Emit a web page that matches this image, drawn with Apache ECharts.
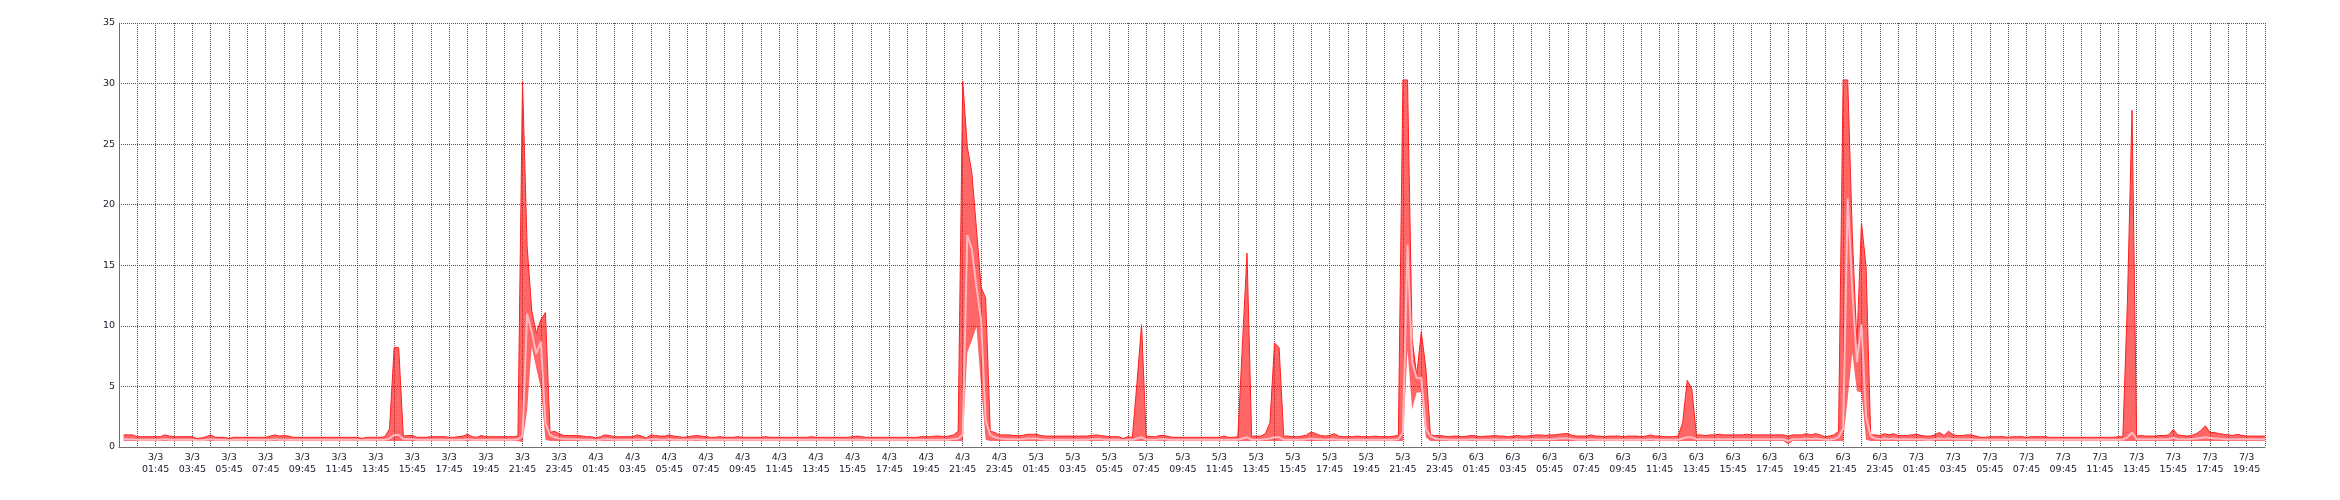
<!DOCTYPE html>
<html>
<head>
<meta charset="utf-8">
<script src="https://cdn.jsdelivr.net/npm/echarts@6/dist/echarts.min.js"></script>
<style>
html,body{margin:0;padding:0;background:#fff;}
#chart{width:2340px;height:500px;}
</style>
</head>
<body>
<div id="chart"></div>
<script>
// Samples every 15 minutes, from 3/3 00:00 to 7/3 20:45.
// The axis starts at 2/3 23:45 (one empty slot before the first sample).
const axisStart = { day: 2, month: 3, hour: 23, minute: 45 };
const slotMinutes = 15;
const yTicks = [0, 5, 10, 15, 20, 25, 30, 35];

// ---- maximum ----
const maxD3 = [
1.0,1.0,1.0,0.85,0.85,0.85,0.85,0.85,0.85,1.0,
0.9,0.85,0.85,0.85,0.85,0.85,0.7,0.75,0.85,1.0,
0.8,0.8,0.8,0.7,0.8,0.8,0.8,0.8,0.8,0.8,
0.8,0.8,0.9,1.0,0.9,0.95,0.9,0.8,0.8,0.8,
0.8,0.8,0.8,0.8,0.8,0.8,0.8,0.8,0.8,0.8,
0.8,0.8,0.7,0.8,0.8,0.8,0.8,0.85,1.5,8.2,
8.2,0.9,0.95,0.95,0.8,0.8,0.8,0.85,0.85,0.85,
0.85,0.8,0.8,0.85,0.9,1.05,0.85,0.8,0.95,0.85,
0.85,0.85,0.85,0.85,0.85,0.85,0.9,30.2,16.6,11.3,
9.4,10.5,11.1,1.2,1.3,1.1];
const maxD4 = [
0.95,0.95,0.95,0.95,0.9,0.85,0.85,0.75,0.85,1.0,
0.95,0.85,0.85,0.85,0.85,0.85,1.0,0.9,0.75,1.0,
0.95,0.9,0.9,1.0,0.9,0.85,0.8,0.85,0.9,0.95,
0.9,0.85,0.8,0.8,0.85,0.8,0.8,0.8,0.85,0.8,
0.8,0.8,0.8,0.8,0.85,0.8,0.8,0.8,0.8,0.8,
0.8,0.8,0.8,0.8,0.85,0.8,0.8,0.8,0.8,0.8,
0.8,0.8,0.8,0.85,0.9,0.85,0.8,0.8,0.8,0.8,
0.8,0.8,0.8,0.8,0.8,0.8,0.8,0.8,0.85,0.85,
0.85,0.9,0.9,0.85,0.9,1.0,1.3,30.2,24.8,22.6,
18.0,13.2,12.3,1.3,1.2,1.0];
const maxD5 = [
1.0,1.0,0.95,0.95,0.95,1.05,1.05,1.05,0.95,0.9,
0.9,0.9,0.9,0.9,0.9,0.9,0.9,0.9,0.9,0.95,
1.0,0.95,0.9,0.85,0.85,0.85,0.7,0.85,0.8,5.3,
10.1,0.9,0.85,0.85,0.95,0.95,0.85,0.8,0.8,0.8,
0.8,0.8,0.8,0.8,0.8,0.8,0.8,0.8,0.9,0.8,
0.8,0.85,8.5,16.0,0.9,0.9,0.9,1.1,2.0,8.6,
8.2,0.9,0.9,0.85,0.85,0.9,1.0,1.25,1.1,0.95,
0.9,0.95,1.1,0.9,0.85,0.85,0.85,0.9,0.85,0.85,
0.85,0.9,0.85,0.85,0.85,0.9,0.95,30.3,30.3,9.0,
5.9,9.5,6.5,1.0,0.95,0.95];
const maxD6 = [
0.9,0.85,0.9,0.9,0.85,0.9,0.95,0.9,0.85,0.9,
0.9,0.95,0.9,0.9,0.85,0.9,0.95,0.9,0.9,0.95,
1.0,1.0,0.95,1.0,1.0,1.05,1.1,1.1,0.95,0.9,
0.9,0.9,1.0,0.9,0.9,0.85,0.9,0.9,0.9,0.85,
0.9,0.9,0.9,0.85,0.9,1.0,0.9,0.9,0.85,0.85,
0.85,0.9,2.0,5.5,4.8,1.0,1.0,0.95,1.0,1.0,
1.05,1.0,1.0,1.0,1.0,1.0,1.05,1.0,1.0,1.0,
1.0,1.0,1.0,1.0,1.0,0.9,1.0,1.0,1.0,1.1,
1.0,1.1,1.0,0.85,0.9,1.0,1.3,30.3,30.3,17.5,
8.5,18.5,14.9,1.0,1.0,0.95];
const maxD7 = [
1.1,1.0,1.1,0.95,0.95,0.95,1.0,1.05,0.95,0.9,
0.9,1.0,1.2,0.95,1.3,1.0,0.95,0.95,1.0,1.0,
0.9,0.8,0.8,0.85,0.85,0.85,0.85,0.8,0.85,0.85,
0.85,0.8,0.85,0.85,0.85,0.85,0.8,0.8,0.8,0.8,
0.8,0.8,0.8,0.8,0.8,0.8,0.8,0.8,0.8,0.8,
0.8,0.85,0.85,12.0,27.8,0.9,0.95,0.9,0.9,0.9,
0.95,0.95,1.0,1.45,1.0,0.95,0.9,0.95,1.1,1.35,
1.75,1.2,1.2,1.1,1.05,1.0,0.95,1.05,0.95,0.9,
0.9,0.9,0.9,0.9];

// ---- average ----
const avgD3 = [
0.65,0.65,0.65,0.6,0.6,0.6,0.6,0.6,0.6,0.65,
0.6,0.6,0.6,0.6,0.6,0.6,0.55,0.55,0.6,0.65,
0.6,0.6,0.6,0.55,0.6,0.6,0.6,0.6,0.6,0.6,
0.6,0.6,0.6,0.65,0.6,0.6,0.6,0.6,0.6,0.6,
0.6,0.6,0.6,0.6,0.6,0.6,0.6,0.6,0.6,0.6,
0.6,0.6,0.55,0.6,0.6,0.6,0.6,0.6,0.7,1.0,
1.0,0.65,0.65,0.65,0.6,0.6,0.6,0.6,0.6,0.6,
0.6,0.6,0.6,0.6,0.6,0.65,0.6,0.6,0.6,0.6,
0.6,0.6,0.6,0.6,0.6,0.6,0.65,0.9,11.0,9.5,
7.7,8.7,2.0,1.0,0.8,0.7];
const avgD4 = [
0.65,0.65,0.65,0.65,0.6,0.6,0.6,0.55,0.6,0.65,
0.65,0.6,0.6,0.6,0.6,0.6,0.65,0.6,0.55,0.65,
0.65,0.6,0.6,0.65,0.6,0.6,0.6,0.6,0.6,0.65,
0.6,0.6,0.6,0.6,0.6,0.6,0.6,0.6,0.6,0.6,
0.6,0.6,0.6,0.6,0.6,0.6,0.6,0.6,0.6,0.6,
0.6,0.6,0.6,0.6,0.6,0.6,0.6,0.6,0.6,0.6,
0.6,0.6,0.6,0.6,0.6,0.6,0.6,0.6,0.6,0.6,
0.6,0.6,0.6,0.6,0.6,0.6,0.6,0.6,0.6,0.6,
0.6,0.6,0.6,0.6,0.6,0.65,0.7,1.0,17.5,16.3,
13.2,10.5,2.2,1.0,0.8,0.7];
const avgD5 = [
0.65,0.65,0.65,0.65,0.65,0.7,0.7,0.7,0.65,0.6,
0.6,0.6,0.6,0.6,0.6,0.6,0.6,0.6,0.6,0.65,
0.65,0.65,0.6,0.6,0.6,0.6,0.55,0.6,0.6,0.7,
0.8,0.6,0.6,0.6,0.65,0.65,0.6,0.6,0.6,0.6,
0.6,0.6,0.6,0.6,0.6,0.6,0.6,0.6,0.6,0.6,
0.6,0.6,0.7,0.8,0.6,0.6,0.6,0.65,0.7,0.8,
0.8,0.6,0.6,0.6,0.6,0.6,0.65,0.7,0.65,0.65,
0.6,0.65,0.65,0.6,0.6,0.6,0.6,0.6,0.6,0.6,
0.6,0.6,0.6,0.6,0.6,0.6,0.65,1.2,16.7,7.0,
5.7,5.7,1.5,0.9,0.7,0.65];
const avgD6 = [
0.65,0.6,0.6,0.6,0.6,0.6,0.65,0.6,0.6,0.6,
0.6,0.65,0.6,0.6,0.6,0.6,0.65,0.6,0.6,0.65,
0.65,0.65,0.65,0.65,0.65,0.7,0.7,0.7,0.65,0.6,
0.6,0.6,0.65,0.6,0.6,0.6,0.6,0.6,0.6,0.6,
0.6,0.6,0.6,0.6,0.6,0.65,0.6,0.6,0.6,0.6,
0.6,0.6,0.7,0.8,0.8,0.65,0.65,0.65,0.65,0.65,
0.65,0.65,0.65,0.65,0.65,0.65,0.65,0.65,0.65,0.65,
0.65,0.65,0.65,0.65,0.65,0.5,0.65,0.65,0.65,0.7,
0.65,0.7,0.65,0.6,0.6,0.65,0.8,1.5,20.5,13.0,
7.0,10.1,2.5,0.9,0.7,0.65];
const avgD7 = [
0.7,0.65,0.7,0.65,0.65,0.65,0.65,0.65,0.65,0.6,
0.6,0.65,0.7,0.65,0.7,0.65,0.65,0.65,0.65,0.65,
0.6,0.6,0.6,0.6,0.6,0.6,0.6,0.6,0.6,0.6,
0.6,0.6,0.6,0.6,0.6,0.6,0.6,0.6,0.6,0.6,
0.6,0.6,0.6,0.6,0.6,0.6,0.6,0.6,0.6,0.6,
0.6,0.6,0.6,0.8,1.2,0.65,0.65,0.65,0.65,0.65,
0.65,0.65,0.65,0.75,0.65,0.65,0.65,0.65,0.7,0.75,
0.8,0.75,0.7,0.7,0.65,0.65,0.65,0.65,0.65,0.65,
0.65,0.65,0.65,0.65];

// ---- minimum ----
const minD3 = [
0.5,0.5,0.5,0.5,0.5,0.5,0.5,0.5,0.5,0.5,
0.5,0.5,0.5,0.5,0.5,0.5,0.5,0.5,0.5,0.5,
0.5,0.5,0.5,0.5,0.5,0.5,0.5,0.5,0.5,0.5,
0.5,0.5,0.5,0.5,0.5,0.5,0.5,0.5,0.5,0.5,
0.5,0.5,0.5,0.5,0.5,0.5,0.5,0.5,0.5,0.5,
0.5,0.5,0.5,0.5,0.5,0.5,0.5,0.5,0.5,0.5,
0.5,0.5,0.5,0.5,0.5,0.5,0.5,0.5,0.5,0.5,
0.5,0.5,0.5,0.5,0.5,0.5,0.5,0.5,0.5,0.5,
0.5,0.5,0.5,0.5,0.5,0.5,0.5,0.4,3.0,8.3,
6.5,4.8,0.6,0.5,0.5,0.5];
const minD4 = [
0.5,0.5,0.5,0.5,0.5,0.5,0.5,0.5,0.5,0.5,
0.5,0.5,0.5,0.5,0.5,0.5,0.5,0.5,0.5,0.5,
0.5,0.5,0.5,0.5,0.5,0.5,0.5,0.5,0.5,0.5,
0.5,0.5,0.5,0.5,0.5,0.5,0.5,0.5,0.5,0.5,
0.5,0.5,0.5,0.5,0.5,0.5,0.5,0.5,0.5,0.5,
0.5,0.5,0.5,0.5,0.5,0.5,0.5,0.5,0.5,0.5,
0.5,0.5,0.5,0.5,0.5,0.5,0.5,0.5,0.5,0.5,
0.5,0.5,0.5,0.5,0.5,0.5,0.5,0.5,0.5,0.5,
0.5,0.5,0.5,0.5,0.5,0.5,0.5,0.5,7.8,8.8,
9.9,5.0,0.6,0.5,0.5,0.5];
const minD5 = [
0.5,0.5,0.5,0.5,0.5,0.5,0.5,0.5,0.5,0.5,
0.5,0.5,0.5,0.5,0.5,0.5,0.5,0.5,0.5,0.5,
0.5,0.5,0.5,0.5,0.5,0.5,0.5,0.5,0.5,0.5,
0.5,0.5,0.5,0.5,0.5,0.5,0.5,0.5,0.5,0.5,
0.5,0.5,0.5,0.5,0.5,0.5,0.5,0.5,0.5,0.5,
0.5,0.5,0.5,0.5,0.5,0.5,0.5,0.5,0.5,0.5,
0.5,0.5,0.5,0.5,0.5,0.5,0.5,0.5,0.5,0.5,
0.5,0.5,0.5,0.5,0.5,0.5,0.5,0.5,0.5,0.5,
0.5,0.5,0.5,0.5,0.5,0.5,0.5,0.5,8.0,3.1,
4.5,4.5,0.8,0.5,0.5,0.5];
const minD6 = [
0.5,0.5,0.5,0.5,0.5,0.5,0.5,0.5,0.5,0.5,
0.5,0.5,0.5,0.5,0.5,0.5,0.5,0.5,0.5,0.5,
0.5,0.5,0.5,0.5,0.5,0.5,0.5,0.5,0.5,0.5,
0.5,0.5,0.5,0.5,0.5,0.5,0.5,0.5,0.5,0.5,
0.5,0.5,0.5,0.5,0.5,0.5,0.5,0.5,0.5,0.5,
0.5,0.5,0.5,0.5,0.5,0.5,0.5,0.5,0.5,0.5,
0.5,0.5,0.5,0.5,0.5,0.5,0.5,0.5,0.5,0.5,
0.5,0.5,0.5,0.5,0.5,0.2,0.5,0.5,0.5,0.5,
0.5,0.5,0.5,0.5,0.5,0.5,0.5,0.5,4.0,7.8,
4.6,4.5,0.6,0.5,0.5,0.5];
const minD7 = [
0.5,0.5,0.5,0.5,0.5,0.5,0.5,0.5,0.5,0.5,
0.5,0.5,0.5,0.5,0.5,0.5,0.5,0.5,0.5,0.5,
0.5,0.5,0.5,0.5,0.5,0.5,0.5,0.5,0.5,0.5,
0.5,0.5,0.5,0.5,0.5,0.5,0.5,0.5,0.5,0.5,
0.5,0.5,0.5,0.5,0.5,0.5,0.5,0.5,0.5,0.5,
0.5,0.5,0.5,0.5,0.5,0.5,0.5,0.5,0.5,0.5,
0.5,0.5,0.5,0.5,0.5,0.5,0.5,0.5,0.5,0.5,
0.5,0.5,0.5,0.5,0.5,0.5,0.5,0.5,0.5,0.5,
0.5,0.5,0.5,0.5];

const maxVals = [].concat(maxD3, maxD4, maxD5, maxD6, maxD7);
const avgVals = [].concat(avgD3, avgD4, avgD5, avgD6, avgD7);
const minVals = [].concat(minD3, minD4, minD5, minD6, minD7);

// Category slots: one empty slot at 2/3 23:45, then one per sample.
const pad = n => (n < 10 ? '0' : '') + n;
const slotCount = maxVals.length + 1;
const categories = [];
for (let s = 0; s < slotCount; s++) {
  const total = axisStart.hour * 60 + axisStart.minute + s * slotMinutes;
  const day = axisStart.day + Math.floor(total / 1440);
  const m = total % 1440;
  categories.push(day + '/' + axisStart.month + '\n' + pad(Math.floor(m / 60)) + ':' + pad(m % 60));
}
const minData = [null].concat(minVals);
const rangeData = [null].concat(maxVals.map((v, i) => +(v - minVals[i]).toFixed(3)));
const avgData = [null].concat(avgVals);

const slotsPerHour = 60 / slotMinutes;
const gridEvery = slotsPerHour;          // dotted line every hour
const labelEvery = 2 * slotsPerHour;     // label every two hours

const chart = echarts.init(document.getElementById('chart'), null, { renderer: 'canvas' });
const font = 'DejaVu Sans';
chart.setOption({
  animation: false,
  backgroundColor: '#ffffff',
  grid: { left: 119, top: 23, right: 75, bottom: 53, containLabel: false },
  xAxis: {
    type: 'category',
    data: categories,
    boundaryGap: false,
    axisLine: { show: true, lineStyle: { color: '#707070', width: 1 } },
    axisTick: { show: false },
    axisLabel: {
      interval: (idx) => idx > 0 && idx % labelEvery === 0,
      color: '#1a1a2a',
      fontFamily: font,
      fontSize: 9.5,
      lineHeight: 12,
      margin: 5
    },
    splitLine: {
      show: true,
      interval: (idx) => idx % gridEvery === 0,
      lineStyle: { color: '#555555', type: [1, 1], width: 1 }
    }
  },
  yAxis: {
    type: 'value',
    min: yTicks[0],
    max: yTicks[yTicks.length - 1],
    interval: 5,
    axisLine: { show: true, lineStyle: { color: '#707070', width: 1 } },
    axisTick: { show: false },
    axisLabel: { color: '#1a1a2a', fontFamily: font, fontSize: 9.5, margin: 4 },
    splitLine: { show: true, lineStyle: { color: '#555555', type: [1, 1], width: 1 } }
  },
  series: [
    {
      name: 'min', type: 'line', stack: 'band', data: minData,
      symbol: 'none', lineStyle: { opacity: 0, width: 0 }, z: 2
    },
    {
      name: 'max', type: 'line', stack: 'band', data: rangeData,
      symbol: 'none',
      lineStyle: { color: '#ff2020', width: 1 },
      areaStyle: { color: 'rgba(255,0,0,0.6)', opacity: 1 },
      z: 3
    },
    {
      name: 'avg', type: 'line', data: avgData,
      symbol: 'none',
      lineStyle: { color: '#ffb8c0', width: 2 },
      z: 4
    }
  ]
});
</script>
</body>
</html>
